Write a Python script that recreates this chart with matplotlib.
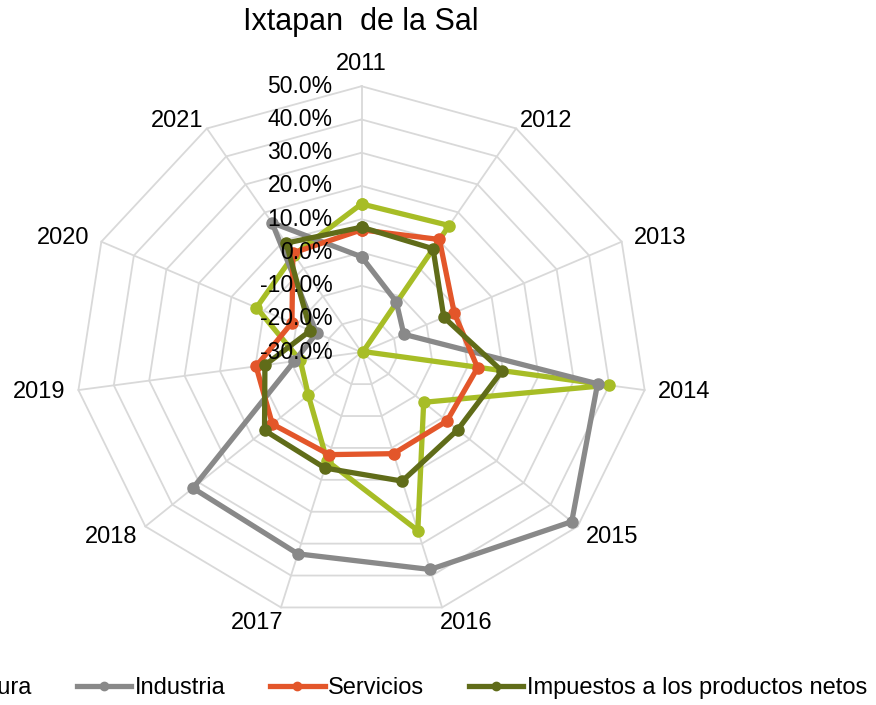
import numpy as np
import matplotlib
matplotlib.use("Agg")
import matplotlib.pyplot as plt
from matplotlib.lines import Line2D

plt.rcParams['font.family'] = ['Liberation Sans', 'DejaVu Sans']

years = ['2011', '2012', '2013', '2014', '2015', '2016', '2017', '2018', '2019', '2020', '2021']
agricultura = [14.6, 15.3, -29.5, 39.8, -7.0, 25.9, 4.1, -10.3, -12.7, 2.3, 4.9]
industria = [-1.3, -12.0, -17.0, 36.7, 47.8, 38.1, 33.2, 32.4, -11.0, -16.2, 16.3]
servicios = [6.8, 10.3, -1.5, 2.8, 1.6, 1.8, 2.1, 3.0, -0.2, -8.6, 5.5]
impuestos = [7.6, 7.0, -4.7, 9.7, 5.6, 10.4, 6.3, 5.9, -2.7, -14.3, 9.0]
ring_levels = [-30, -20, -10, 0, 10, 20, 30, 40, 50]

series = [
    ('Agricultura', agricultura, '#A7BD26'),
    ('Industria', industria, '#898989'),
    ('Servicios', servicios, '#E3562A'),
    ('Impuestos a los productos netos', impuestos, '#606C19'),
]

rmin, rmax = ring_levels[0], ring_levels[-1]
n = len(years)
angles = np.arange(n) * 2 * np.pi / n
closed = np.append(angles, angles[0])

fig = plt.figure(figsize=(8.76, 7.05), dpi=100)
ax = fig.add_axes([0.0862, 0.1231, 0.653, 0.7546], projection='polar')
ax.set_aspect('auto')
ax.set_theta_zero_location('N')
ax.set_theta_direction(-1)
ax.set_ylim(rmin, rmax)
ax.grid(False)
ax.spines['polar'].set_visible(False)
ax.set_xticks([])
ax.set_yticks([])
ax.patch.set_visible(False)

# polygon grid
for lv in ring_levels[1:]:
    ax.plot(closed, [lv] * (n + 1), color='#D9D9D9', lw=1.3, zorder=1, clip_on=False)
for a in angles:
    ax.plot([a, a], [rmin, rmax], color='#D9D9D9', lw=1.3, zorder=1, clip_on=False)

for name, vals, col in series:
    ax.plot(closed, vals + vals[:1], color=col, lw=3.8, marker='o', ms=8,
            label=name, zorder=3, clip_on=False)

# radial value labels
for lv in ring_levels:
    ax.annotate(f"{lv:.1f}%", xy=(0, lv), xytext=(-29, 0), textcoords='offset pixels',
                ha='right', va='center', fontsize=16.5, zorder=5)

# category labels
for a, yr in zip(angles, years):
    s, c = np.sin(a), np.cos(a)
    dx = s * 22 + (18 * np.sign(s) if abs(s) > 0.1 else 0)
    dy = 16 * c if c < 0 else 9 * c
    if c > 0.99:
        dy += 13
    ax.annotate(yr, xy=(a, rmax), xytext=(dx, dy), textcoords='offset pixels',
                ha='center', va='center', fontsize=17)

fig.text(360.5 / 876, 1 - 22 / 705, 'Ixtapan  de la Sal', ha='center', va='center', fontsize=22)

handles = [Line2D([], [], color=col, lw=3.8, marker='o', ms=6) for _, _, col in series]
labels = [name for name, _, _ in series]
fig.legend(handles, labels, loc='center', bbox_to_anchor=(364 / 876, 1 - 688 / 705), ncol=4,
           frameon=False, fontsize=17, handlelength=2.3, handletextpad=0.15, columnspacing=1.9)

fig.savefig('out.png', dpi=100)
